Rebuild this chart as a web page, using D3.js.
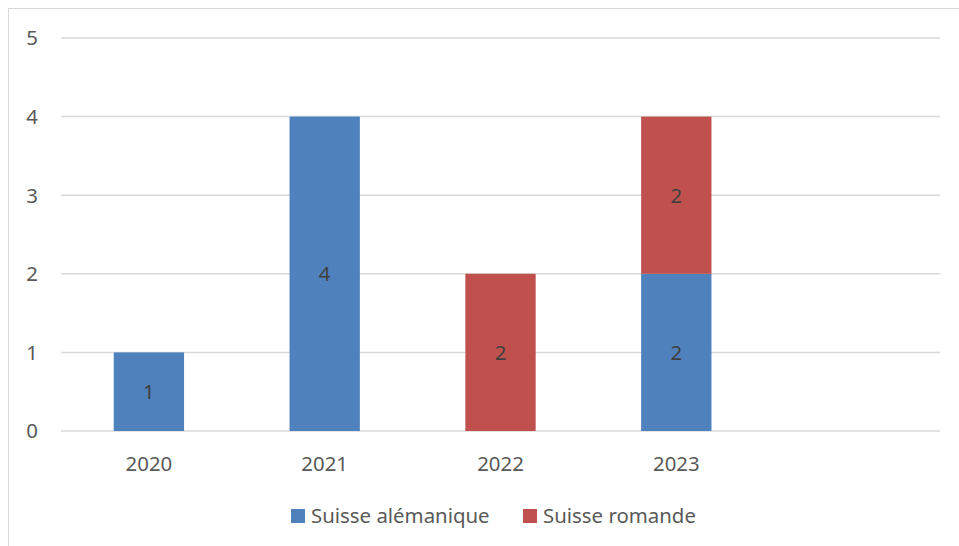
<!DOCTYPE html>
<html>
<head>
<meta charset="utf-8">
<script src="https://cdn.jsdelivr.net/npm/d3@7"></script>
<style>
  body { margin: 0; background: #fff; }
  svg text { font-family: "Noto Sans", "Open Sans", sans-serif; }
</style>
</head>
<body>
<div id="chart"></div>
<script>
// categories (the last slot is empty in the original chart)
var years = ["2020", "2021", "2022", "2023", ""];
var alemanique = [1, 4, 0, 2, 0];
var romande = [0, 0, 2, 2, 0];
var seriesNames = ["Suisse alémanique", "Suisse romande"];
var yTicks = [0, 1, 2, 3, 4, 5];

var colors = {
    "Suisse alémanique": "#4f81bd",
    "Suisse romande": "#c0504d"
};

var fontSize = 20.4;
var W = 959, H = 546;
var margin = { top: 38, right: 19, bottom: 115, left: 61 };
var width = W - margin.left - margin.right,
    height = H - margin.top - margin.bottom;

var svg = d3.select("#chart").append("svg")
    .attr("width", W)
    .attr("height", H);

// outer chart frame (only top and left edges visible)
svg.append("rect")
    .attr("x", 8.5).attr("y", 8.5)
    .attr("width", W + 10).attr("height", H + 10)
    .attr("fill", "none")
    .attr("stroke", "#d9d9d9");

var g = svg.append("g")
    .attr("transform", "translate(" + margin.left + "," + margin.top + ")");

var x = d3.scaleBand()
    .domain(d3.range(years.length))
    .range([0, width])
    .padding(0);

var y = d3.scaleLinear()
    .domain([0, 5])
    .range([height, 0]);

var barW = x.bandwidth() * 0.4;

// gridlines
g.selectAll(".grid")
    .data(yTicks)
    .enter().append("line")
    .attr("x1", 0).attr("x2", width)
    .attr("y1", function (d) { return y(d); })
    .attr("y2", function (d) { return y(d); })
    .attr("stroke", "#d9d9d9")
    .attr("stroke-width", 1.5);

// y tick labels
g.selectAll(".ytick")
    .data(yTicks)
    .enter().append("text")
    .attr("x", -23)
    .attr("y", function (d) { return y(d); })
    .attr("dy", "0.36em")
    .attr("text-anchor", "end")
    .attr("font-size", fontSize)
    .attr("fill", "#595959")
    .text(function (d) { return d; });

// stacked data
var rows = years.map(function (yr, i) {
    return { i: i, year: yr, "Suisse alémanique": alemanique[i], "Suisse romande": romande[i] };
});
var stack = d3.stack().keys(seriesNames)(rows);

var layer = g.selectAll(".layer")
    .data(stack)
    .enter().append("g")
    .attr("fill", function (d) { return colors[d.key]; });

layer.selectAll("rect")
    .data(function (d) { return d; })
    .enter().append("rect")
    .attr("x", function (d) { return x(d.data.i) + (x.bandwidth() - barW) / 2; })
    .attr("y", function (d) { return y(d[1]); })
    .attr("width", barW)
    .attr("height", function (d) { return y(d[0]) - y(d[1]); });

// value labels
layer.selectAll("text")
    .data(function (d) { return d.filter(function (s) { return s[1] - s[0] > 0; }); })
    .enter().append("text")
    .attr("x", function (d) { return x(d.data.i) + x.bandwidth() / 2; })
    .attr("y", function (d) { return (y(d[0]) + y(d[1])) / 2; })
    .attr("dy", "0.36em")
    .attr("text-anchor", "middle")
    .attr("font-size", fontSize)
    .attr("fill", "#404040")
    .text(function (d) { return d[1] - d[0]; });

// x labels
g.selectAll(".xtick")
    .data(years)
    .enter().append("text")
    .attr("x", function (d, i) { return x(i) + x.bandwidth() / 2; })
    .attr("y", height + 40)
    .attr("text-anchor", "middle")
    .attr("font-size", fontSize)
    .attr("fill", "#595959")
    .text(function (d) { return d; });

// legend
var legendX = [291, 523];
var legend = svg.selectAll(".legend")
    .data(seriesNames)
    .enter().append("g")
    .attr("transform", function (d, i) { return "translate(" + legendX[i] + ",509)"; });

legend.append("rect")
    .attr("width", 14).attr("height", 14)
    .attr("fill", function (d) { return colors[d]; });

legend.append("text")
    .attr("x", 20)
    .attr("y", 14)
    .attr("font-size", fontSize)
    .attr("fill", "#595959")
    .text(function (d) { return d; });
</script>
</body>
</html>
